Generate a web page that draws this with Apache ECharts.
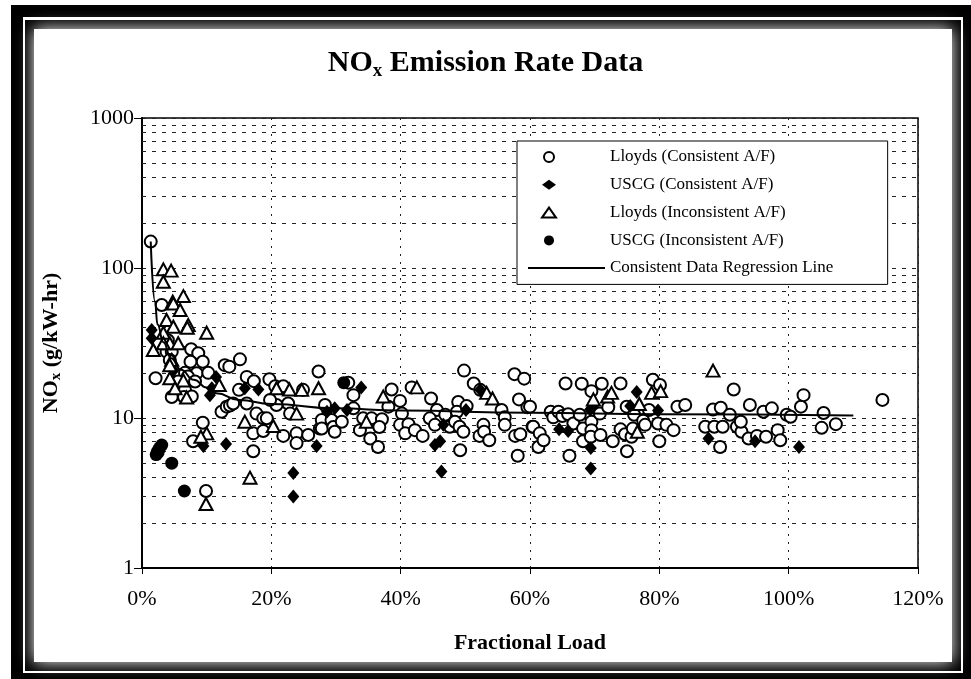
<!DOCTYPE html>
<html>
<head>
<meta charset="utf-8">
<script src="https://cdn.jsdelivr.net/npm/echarts@6/dist/echarts.min.js"></script>
<style>
  html, body { margin: 0; padding: 0; background: #fff; }
  #chart { width: 971px; height: 679px; }
</style>
</head>
<body>
<div id="chart"></div>
<script>
// fractional load (%) , NOx (g/kW-hr)
var lloydsConsistent = [
  [1.35,150],[2.1,18.4],[3.05,56.7],[3.8,27.7],[4.6,27.7],[4.0,33],[4.3,24.4],[7.6,28.7],[8.7,27],
  [7.5,23.7],[9.4,23.7],[6.65,20],[8.45,19.9],[10.25,20],[12.8,22.5],[13.5,22],[15.15,24.6],[5.6,17.5],
  [7.1,18.9],[8.2,17.5],[6.65,15.4],[4.6,13.8],[6.5,13.8],[7.7,13.9],[12.3,11],[13.1,11.9],[13.6,12.1],
  [14.1,12.5],[15.0,15.4],[16.2,18.8],[17.3,17.6],[19.7,18.1],[20.6,16.3],[21.85,16.3],[24.9,15.4],
  [27.3,20.4],[16.2,12.5],[17.7,10.7],[18.75,9.95],[19.3,9.95],[17.2,7.9],[18.75,8.2],[21.85,7.6],
  [23.9,7.9],[23.9,6.8],[25.7,7.7],[27.5,8.5],[28.3,12.2],[9.4,9.3],[7.9,7.0],[17.2,6.0],[9.9,3.26],
  [22.6,12.5],[22.9,10.7],[20.8,12.2],[19.8,13.2],
  [31.9,17.2],[32.7,14.2],[38.6,15.5],[41.7,16],[49.8,20.7],[51.3,17],[52.3,15.4],[57.6,19.6],[59.1,18.3],
  [58.3,13.3],[59.6,11.8],[27.8,9.7],[27.8,8.5],[29.3,9.7],[29.6,8.7],[29.8,8.1],[30.9,9.45],[32.7,11.6],
  [33.7,8.3],[34.2,9.95],[35.5,9.95],[35.3,7.3],[36.5,6.4],[37.1,9.8],[36.7,8.7],[38.1,11.9],[39.9,13],
  [40.2,10.7],[39.9,9.0],[41.2,9.1],[40.7,7.9],[42.2,8.3],[43.4,7.6],[44.7,13.5],[45.6,11.3],[44.5,9.95],
  [45.3,9.0],[46.9,10.5],[47.6,8.75],[49.2,6.1],[48.9,12.8],[48.7,11],[48.4,9.45],[49.1,8.75],[49.7,8.1],
  [50.2,12],[52.2,7.6],[52.8,9.0],[52.9,8.1],[53.7,7.1],[55.6,11.3],[56.1,10.1],[56.1,9.0],[57.7,7.6],
  [58.5,7.8],[58.1,5.6],[60.4,8.75],[61.3,6.4],
  [60.0,11.9],[60.5,8.75],[61.5,7.9],[62.1,7.1],[63.2,11],[63.6,10.1],[64.4,11],[65.0,10.3],
  [65.9,10.6],[66.7,9.2],[67.7,10.5],[68.2,8.5],[68.2,7.0],[66.1,5.6],[65.5,17],[68.0,16.9],[69.5,15.1],
  [69.5,9.45],[69.5,8.3],[69.4,7.5],[70.8,10.7],[70.9,7.7],[71.1,16.9],[72.1,11.8],[72.8,7.0],[74.0,17],
  [74.0,8.4],[74.7,7.8],[74.95,11.9],[75.0,6.0],[75.7,7.5],[75.9,8.5],[76.1,10.5],[77.5,9.6],[77.8,9.0],
  [78.4,11.3],[79.0,18],[80.1,16.6],[79.8,9.2],[80.0,7.0],[81.1,9.0],[82.2,8.3],[82.8,11.9],[84.0,12.2],
  [87.1,8.75],[88.3,11.4],[88.5,8.75],[89.5,11.7],[89.8,8.75],[89.4,6.4],[91.5,15.5],[90.9,10.5],
  [92.0,8.75],[92.7,8.1],[92.6,9.45],[93.8,7.3],[94.0,12.2],
  [95.1,7.6],[96.1,11],[96.5,7.5],[97.4,11.6],[98.3,8.3],[98.7,7.1],[99.7,10.5],[100.3,10.2],[101.9,11.9],
  [102.3,14.2],[105.1,8.6],[105.4,10.8],[107.3,9.1],[114.5,13.2]
];
var uscgConsistent = [
  [1.5,38.6],[1.5,34],[4.85,20.7],[11.45,18.8],[10.8,15.8],[10.5,14.2],[15.9,15.8],[18.0,15.5],[9.5,6.5],
  [13.0,6.7],[23.4,4.3],[23.4,3.0],[27.0,6.5],[33.9,16],[28.6,11],[29.8,11.6],[31.7,11.3],[45.3,6.6],
  [46.1,7.0],[46.3,4.4],[46.6,9.0],[50.1,11.3],[52.3,15.4],[64.5,8.4],[65.9,8.2],[69.3,11.4],[69.9,12.2],
  [69.4,6.3],[69.4,4.6],[75.5,12],[76.5,14.9],[79.8,11.2],[87.6,7.3],[94.8,7.0],[101.6,6.4]
];
var lloydsInconsistent = [
  [3.3,98],[4.5,96],[3.3,81],[6.4,65],[4.75,59.6],[4.85,58],[5.9,52.5],[3.8,45],[4.85,40.6],[7.15,41.7],
  [7.0,40],[10.0,37],[3.3,37],[1.75,28.4],[4.3,31.5],[5.6,31.5],[3.3,31.5],[4.6,24.4],[4.3,22.5],[4.3,18.4],
  [6.4,17.8],[5.1,15.8],[6.9,13.7],[11.95,16.6],[15.9,9.45],[10.0,7.9],[9.1,7.5],[16.7,4.0],[9.9,2.67],
  [20.8,15.8],[22.8,15.5],[24.7,15.4],[27.3,15.8],[20.3,8.85],[23.9,10.7],[34.7,9.45],[37.3,13.9],
  [42.5,16],[53.3,14.7],[54.2,13.5],[69.8,13.3],[72.0,13.9],[72.6,14.7],[76.9,12.4],[76.6,8.1],
  [78.8,14.7],[80.2,15.1],[88.3,20.7]
];
var uscgInconsistent = [
  [2.2,5.7],[2.4,6.0],[2.7,6.3],[3.05,6.6],[2.5,5.9],[4.6,5.0],[6.55,3.26],[31.2,17.2]
];
var regressionLine = [
  [1.35,150],[2.0,60],[2.4,42],[3.3,32],[4.5,25],[6,21],[8,18],[10,16],[11.5,14.6],[15,13.2],
  [20,12.4],[30,11.6],[40,11.2],[60,10.85],[80,10.6],[110,10.4]
];
var yMinorLines = [2,3,4,5,6,7,8,9,20,30,40,50,60,70,80,90,200,300,400,500,600,700,800,900];

var serif = "'Liberation Serif', 'Times New Roman', serif";
var chart = echarts.init(document.getElementById('chart'));

var option = {
  animation: false,
  backgroundColor: '#fff',
  title: {
    left: 'center',
    top: 40,
    padding: [5, 5, 5, 25],
    text: '{a|NO}{s|x}{a| Emission Rate Data}',
    textStyle: {
      rich: {
        a: { fontFamily: serif, fontSize: 30, fontWeight: 'bold', color: '#000', lineHeight: 36 },
        s: { fontFamily: serif, fontSize: 19, fontWeight: 'bold', color: '#000', lineHeight: 16, verticalAlign: 'bottom' }
      }
    }
  },
  grid: { left: 142, top: 118, width: 776, height: 450, show: true, borderColor: '#000', borderWidth: 1.5, backgroundColor: 'transparent' },
  xAxis: {
    type: 'value', min: 0, max: 120, interval: 20,
    name: 'Fractional Load', nameLocation: 'middle', nameGap: 64,
    nameTextStyle: { fontFamily: serif, fontSize: 22, fontWeight: 'bold', color: '#000' },
    axisLine: { show: true, onZero: false, lineStyle: { color: '#000', width: 2 } },
    axisTick: { show: true, length: 6, lineStyle: { color: '#000', width: 1 } },
    axisLabel: { formatter: '{value}%', fontFamily: serif, fontSize: 22, color: '#000', margin: 20 },
    splitLine: { show: true, lineStyle: { color: '#222', width: 1, type: [2, 6] } }
  },
  yAxis: {
    type: 'log', logBase: 10, min: 1, max: 1000,
    name: '{a|NO}{s|x}{a| (g/kW-hr)}', nameLocation: 'middle', nameRotate: 90, nameGap: 78,
    nameTextStyle: {
      rich: {
        a: { fontFamily: serif, fontSize: 22, fontWeight: 'bold', color: '#000', lineHeight: 26 },
        s: { fontFamily: serif, fontSize: 15, fontWeight: 'bold', color: '#000', lineHeight: 12, verticalAlign: 'bottom' }
      }
    },
    axisLine: { show: true, lineStyle: { color: '#000', width: 2 } },
    axisTick: { show: true, length: 8, lineStyle: { color: '#000', width: 1 } },
    axisLabel: { fontFamily: serif, fontSize: 22, color: '#000', margin: 8, formatter: function (v) { return String(v); } },
    splitLine: { show: true, lineStyle: { color: '#222', width: 1, type: [4, 6] } }
  },
  graphic: [
    { type: 'rect', z: -10, silent: true, shape: { x: 11, y: 5, width: 960, height: 674 }, style: { fill: '#000' } },
    { type: 'rect', z: -10, silent: true, shape: { x: 23, y: 17, width: 940, height: 656 }, style: { fill: '#fff' } },
    { type: 'rect', z: -10, silent: true, shape: { x: 25, y: 20, width: 936, height: 651 }, style: { fill: '#000' } },
    { type: 'rect', z: -10, silent: true, shape: { x: 34, y: 29, width: 918, height: 633 },
      style: { fill: '#fff', shadowBlur: 16, shadowColor: '#fff' } }
  ],
  legend: [
    {
      orient: 'vertical', left: 517, top: 141, itemWidth: 14, itemHeight: 10, itemGap: 9.8,
      padding: [7, 102, 35, 24],
      backgroundColor: '#fff', borderColor: '#000', borderWidth: 1, z: 4,
      textStyle: { fontFamily: serif, fontSize: 17, color: '#000', lineHeight: 18, padding: [0, 0, 0, 49] },
      data: [
        { name: 'Lloyds (Consistent A/F)', itemStyle: { color: '#fff', borderColor: '#000', borderWidth: 2 } },
        { name: 'USCG (Consistent A/F)', itemStyle: { color: '#000', borderWidth: 0 } },
        { name: 'Lloyds (Inconsistent A/F)', itemStyle: { color: '#fff', borderColor: '#000', borderWidth: 2 } },
        { name: 'USCG (Inconsistent A/F)', itemStyle: { color: '#000', borderWidth: 0 } }
      ]
    },
    {
      orient: 'vertical', left: 528, top: 259, padding: 0, itemWidth: 77, itemHeight: 2, z: 5,
      textStyle: { fontFamily: serif, fontSize: 17, color: '#000', lineHeight: 18 },
      data: [{ name: 'Consistent Data Regression Line', icon: 'rect', itemStyle: { color: '#000', borderWidth: 0 } }]
    }
  ],
  series: [
    {
      name: 'gridMinor', type: 'line', data: [], silent: true, z: 1,
      markLine: {
        silent: true, symbol: 'none', label: { show: false }, z: 1,
        lineStyle: { color: '#222', width: 1, type: [4, 6] },
        data: yMinorLines.map(function (v) { return { yAxis: v }; })
      }
    },
    {
      name: 'Consistent Data Regression Line', type: 'line', data: regressionLine,
      smooth: true, smoothMonotone: 'x', showSymbol: false, symbol: 'none', z: 3,
      lineStyle: { color: '#000', width: 2 }, itemStyle: { color: '#000' }
    },
    {
      name: 'Lloyds (Consistent A/F)', type: 'scatter', data: lloydsConsistent, symbol: 'circle', symbolSize: 12, z: 2,
      itemStyle: { color: '#fff', borderColor: '#000', borderWidth: 2, opacity: 1 }
    },
    {
      name: 'USCG (Consistent A/F)', type: 'scatter', data: uscgConsistent, symbol: 'diamond', symbolSize: [12, 14], z: 2,
      itemStyle: { color: '#000', opacity: 1 }
    },
    {
      name: 'Lloyds (Inconsistent A/F)', type: 'scatter', data: lloydsInconsistent, symbol: 'triangle', symbolSize: [13, 12], z: 2,
      itemStyle: { color: '#fff', borderColor: '#000', borderWidth: 2, opacity: 1 }
    },
    {
      name: 'USCG (Inconsistent A/F)', type: 'scatter', data: uscgInconsistent, symbol: 'circle', symbolSize: 13, z: 2,
      itemStyle: { color: '#000', opacity: 1 }
    }
  ]
};
chart.setOption(option);
</script>
</body>
</html>
